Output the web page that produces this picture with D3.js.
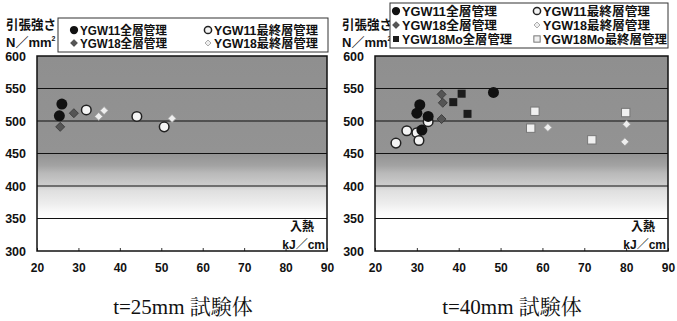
<!DOCTYPE html>
<html>
<head>
<meta charset="utf-8">
<script src="https://cdn.jsdelivr.net/npm/d3@7"></script>
<style>
  html, body { margin: 0; padding: 0; background: #fff; }
  svg { display: block; }
</style>
</head>
<body>
<svg id="chart" width="677" height="321"></svg>
<script>
// x = heat input (kJ/cm), y = tensile strength (N/mm2)
const xTicks = [20, 30, 40, 50, 60, 70, 80, 90];
const yTicks = [300, 350, 400, 450, 500, 550, 600];

const legendNames = {
  ygw11All: 'YGW11全層管理',
  ygw11Last: 'YGW11最終層管理',
  ygw18All: 'YGW18全層管理',
  ygw18Last: 'YGW18最終層管理',
  moAll: 'YGW18Mo全層管理',
  moLast: 'YGW18Mo最終層管理'
};

// t=25mm
const t25Ygw11All = [[26.0, 526], [25.4, 508]];
const t25Ygw11Last = [[31.9, 517], [44.1, 507], [50.7, 491]];
const t25Ygw18All = [[25.6, 491], [28.9, 512]];
const t25Ygw18Last = [[34.9, 507], [36.2, 516], [52.6, 504]];

// t=40mm
const t40Ygw11All = [[30.7, 525], [30.0, 512], [32.7, 507], [31.2, 486], [48.3, 544]];
const t40Ygw11Last = [[27.6, 485], [30.0, 482], [30.5, 470], [25.0, 466], [32.7, 499]];
const t40Ygw18All = [[35.9, 541], [36.2, 528], [35.9, 503]];
const t40Ygw18Last = [[61.3, 490], [80.1, 495], [79.7, 468]];
const t40MoAll = [[38.7, 529], [42.1, 511], [40.7, 542]];
const t40MoLast = [[58.2, 515], [57.2, 489], [71.8, 471], [79.9, 513]];

const svg = d3.select('#chart');
const sans = '"Liberation Sans", Arial, "Noto Sans CJK JP", sans-serif';
const cjk = '"Liberation Sans", "Noto Sans CJK JP", sans-serif';

const grad = svg.append('defs').append('linearGradient')
  .attr('id', 'bg').attr('x1', 0).attr('y1', 0).attr('x2', 0).attr('y2', 1);
[[0, '#8f8f8f'], [0.5, '#939393'], [0.56, '#a2a2a2'], [0.6, '#b9b9b9'],
 [0.667, '#cecece'], [0.69, '#dfdfdf'], [0.76, '#eeeeee'], [0.8, '#fafafa'], [0.833, '#ffffff'], [1, '#ffffff']]
  .forEach(([o, c]) => grad.append('stop').attr('offset', o).attr('stop-color', c));

function marker(g, kind, x, y, s) {
  if (kind === 'ygw11All') {
    g.append('circle').attr('cx', x).attr('cy', y).attr('r', 5.5 * s).attr('fill', '#111');
  } else if (kind === 'ygw11Last') {
    g.append('circle').attr('cx', x).attr('cy', y).attr('r', 4.8 * s)
      .attr('fill', '#f4f4f4').attr('stroke', '#222').attr('stroke-width', 1.5);
  } else if (kind === 'ygw18All') {
    const r = 4.5 * s;
    g.append('path').attr('d', `M${x},${y - r}L${x + r},${y}L${x},${y + r}L${x - r},${y}Z`)
      .attr('fill', '#555').attr('stroke', '#333').attr('stroke-width', 0.8);
  } else if (kind === 'ygw18Last') {
    const r = 4 * s;
    g.append('path').attr('d', `M${x},${y - r}L${x + r},${y}L${x},${y + r}L${x - r},${y}Z`)
      .attr('fill', '#eee').attr('stroke', '#999').attr('stroke-width', 0.8);
  } else if (kind === 'moAll') {
    const h = 4 * s;
    g.append('rect').attr('x', x - h).attr('y', y - h).attr('width', 2 * h).attr('height', 2 * h)
      .attr('fill', '#1c1c1c');
  } else if (kind === 'moLast') {
    const h = 4.2 * s;
    g.append('rect').attr('x', x - h).attr('y', y - h).attr('width', 2 * h).attr('height', 2 * h)
      .attr('fill', '#f0f0f0').attr('stroke', '#777').attr('stroke-width', 1);
  }
}

function drawPanel(p) {
  const x = d3.scaleLinear().domain([20, 90]).range([p.left, p.right]);
  const y = d3.scaleLinear().domain([300, 600]).range([251, 56]);
  const g = svg.append('g');

  g.append('rect').attr('x', p.left).attr('y', y(600))
    .attr('width', p.right - p.left).attr('height', y(300) - y(600))
    .attr('fill', 'url(#bg)');

  g.append('g').selectAll('line').data(yTicks.slice(1, -1)).join('line')
    .attr('x1', p.left).attr('x2', p.right)
    .attr('y1', d => y(d)).attr('y2', d => y(d))
    .attr('stroke', '#111').attr('stroke-width', 1.2);

  const ax = g.append('g').attr('transform', `translate(0,${y(300)})`)
    .call(d3.axisBottom(x).tickValues(xTicks).tickSizeInner(-3).tickSizeOuter(0).tickPadding(12));
  ax.select('.domain').remove();
  ax.selectAll('line').attr('stroke', '#333');
  ax.selectAll('text').attr('font-family', sans).attr('font-weight', 'bold')
    .attr('font-size', 12).attr('fill', '#111');

  const ay = g.append('g').attr('transform', `translate(${p.left - 9},0)`)
    .call(d3.axisLeft(y).tickValues(yTicks).tickSize(0).tickPadding(2));
  ay.select('.domain').remove();
  ay.selectAll('text').attr('font-family', sans).attr('font-weight', 'bold')
    .attr('font-size', 12.5).attr('fill', '#111');

  g.append('rect').attr('x', p.left).attr('y', y(600))
    .attr('width', p.right - p.left).attr('height', y(300) - y(600))
    .attr('fill', 'none').attr('stroke', '#111').attr('stroke-width', 1.5);

  const pts = g.append('g');
  p.series.forEach(([kind, data]) => {
    data.forEach(d => marker(pts, kind, x(d[0]), y(d[1]), 1));
  });

  // axis titles
  g.append('text').attr('x', p.ytX).attr('y', 29).text('引張強さ')
    .attr('textLength', 50).attr('lengthAdjust', 'spacingAndGlyphs')
    .attr('font-family', cjk).attr('font-weight', 'bold').attr('font-size', 13).attr('fill', '#111');
  const unit = g.append('text').attr('x', p.ytX).attr('y', 47)
    .attr('font-family', cjk).attr('font-weight', 'bold').attr('font-size', 13).attr('fill', '#111');
  unit.append('tspan').text('N／mm');
  unit.append('tspan').text('2').attr('font-size', 7).attr('dy', -6);

  g.append('text').attr('x', p.right - 13).attr('y', 231).attr('text-anchor', 'end').text('入熱')
    .attr('font-family', cjk).attr('font-weight', 'bold').attr('font-size', 12).attr('fill', '#111');
  g.append('text').attr('x', p.right - 2).attr('y', 249).attr('text-anchor', 'end').text('kJ／cm')
    .attr('font-family', cjk).attr('font-weight', 'bold').attr('font-size', 12).attr('fill', '#111');

  // legend
  const lg = g.append('g');
  lg.append('rect').attr('x', p.legend.x).attr('y', p.legend.y)
    .attr('width', p.legend.w).attr('height', p.legend.h)
    .attr('fill', '#fff').attr('stroke', '#333').attr('stroke-width', 1);
  p.legend.items.forEach((kind, i) => {
    const col = i % 2, row = Math.floor(i / 2);
    const mx = p.legend.x + p.legend.colX[col];
    const my = p.legend.y + p.legend.rowY[row];
    marker(lg, kind, mx, my, 0.75);
    lg.append('text').attr('x', mx + 6).attr('y', my + 4.5).text(legendNames[kind])
      .attr('textLength', p.legend.lens[i]).attr('lengthAdjust', 'spacingAndGlyphs')
      .attr('font-family', cjk).attr('font-weight', 'bold').attr('font-size', 12).attr('fill', '#111');
  });

  svg.append('text').attr('x', p.captionX).attr('y', 314).attr('text-anchor', 'middle')
    .text(p.caption).attr('font-family', '"Liberation Serif", "Noto Serif CJK JP", "Noto Sans CJK JP", serif')
    .attr('font-size', 21).attr('fill', '#111');
}

drawPanel({
  left: 37, right: 327, ytX: 6, caption: 't=25mm 試験体', captionX: 183,
  legend: { x: 58, y: 18, w: 270, h: 34, colX: [16, 150], rowY: [12, 25],
    lens: [87, 104, 87, 104],
    items: ['ygw11All', 'ygw11Last', 'ygw18All', 'ygw18Last'] },
  series: [['ygw18All', t25Ygw18All], ['ygw18Last', t25Ygw18Last],
    ['ygw11Last', t25Ygw11Last], ['ygw11All', t25Ygw11All]]
});

drawPanel({
  left: 375, right: 668, ytX: 342, caption: 't=40mm 試験体', captionX: 512,
  legend: { x: 390, y: 3, w: 278, h: 45, colX: [6, 147], rowY: [8, 22, 36],
    lens: [95, 107, 95, 107, 110, 124],
    items: ['ygw11All', 'ygw11Last', 'ygw18All', 'ygw18Last', 'moAll', 'moLast'] },
  series: [['ygw18All', t40Ygw18All], ['ygw18Last', t40Ygw18Last], ['moAll', t40MoAll],
    ['moLast', t40MoLast], ['ygw11Last', t40Ygw11Last], ['ygw11All', t40Ygw11All]]
});
</script>
</body>
</html>
